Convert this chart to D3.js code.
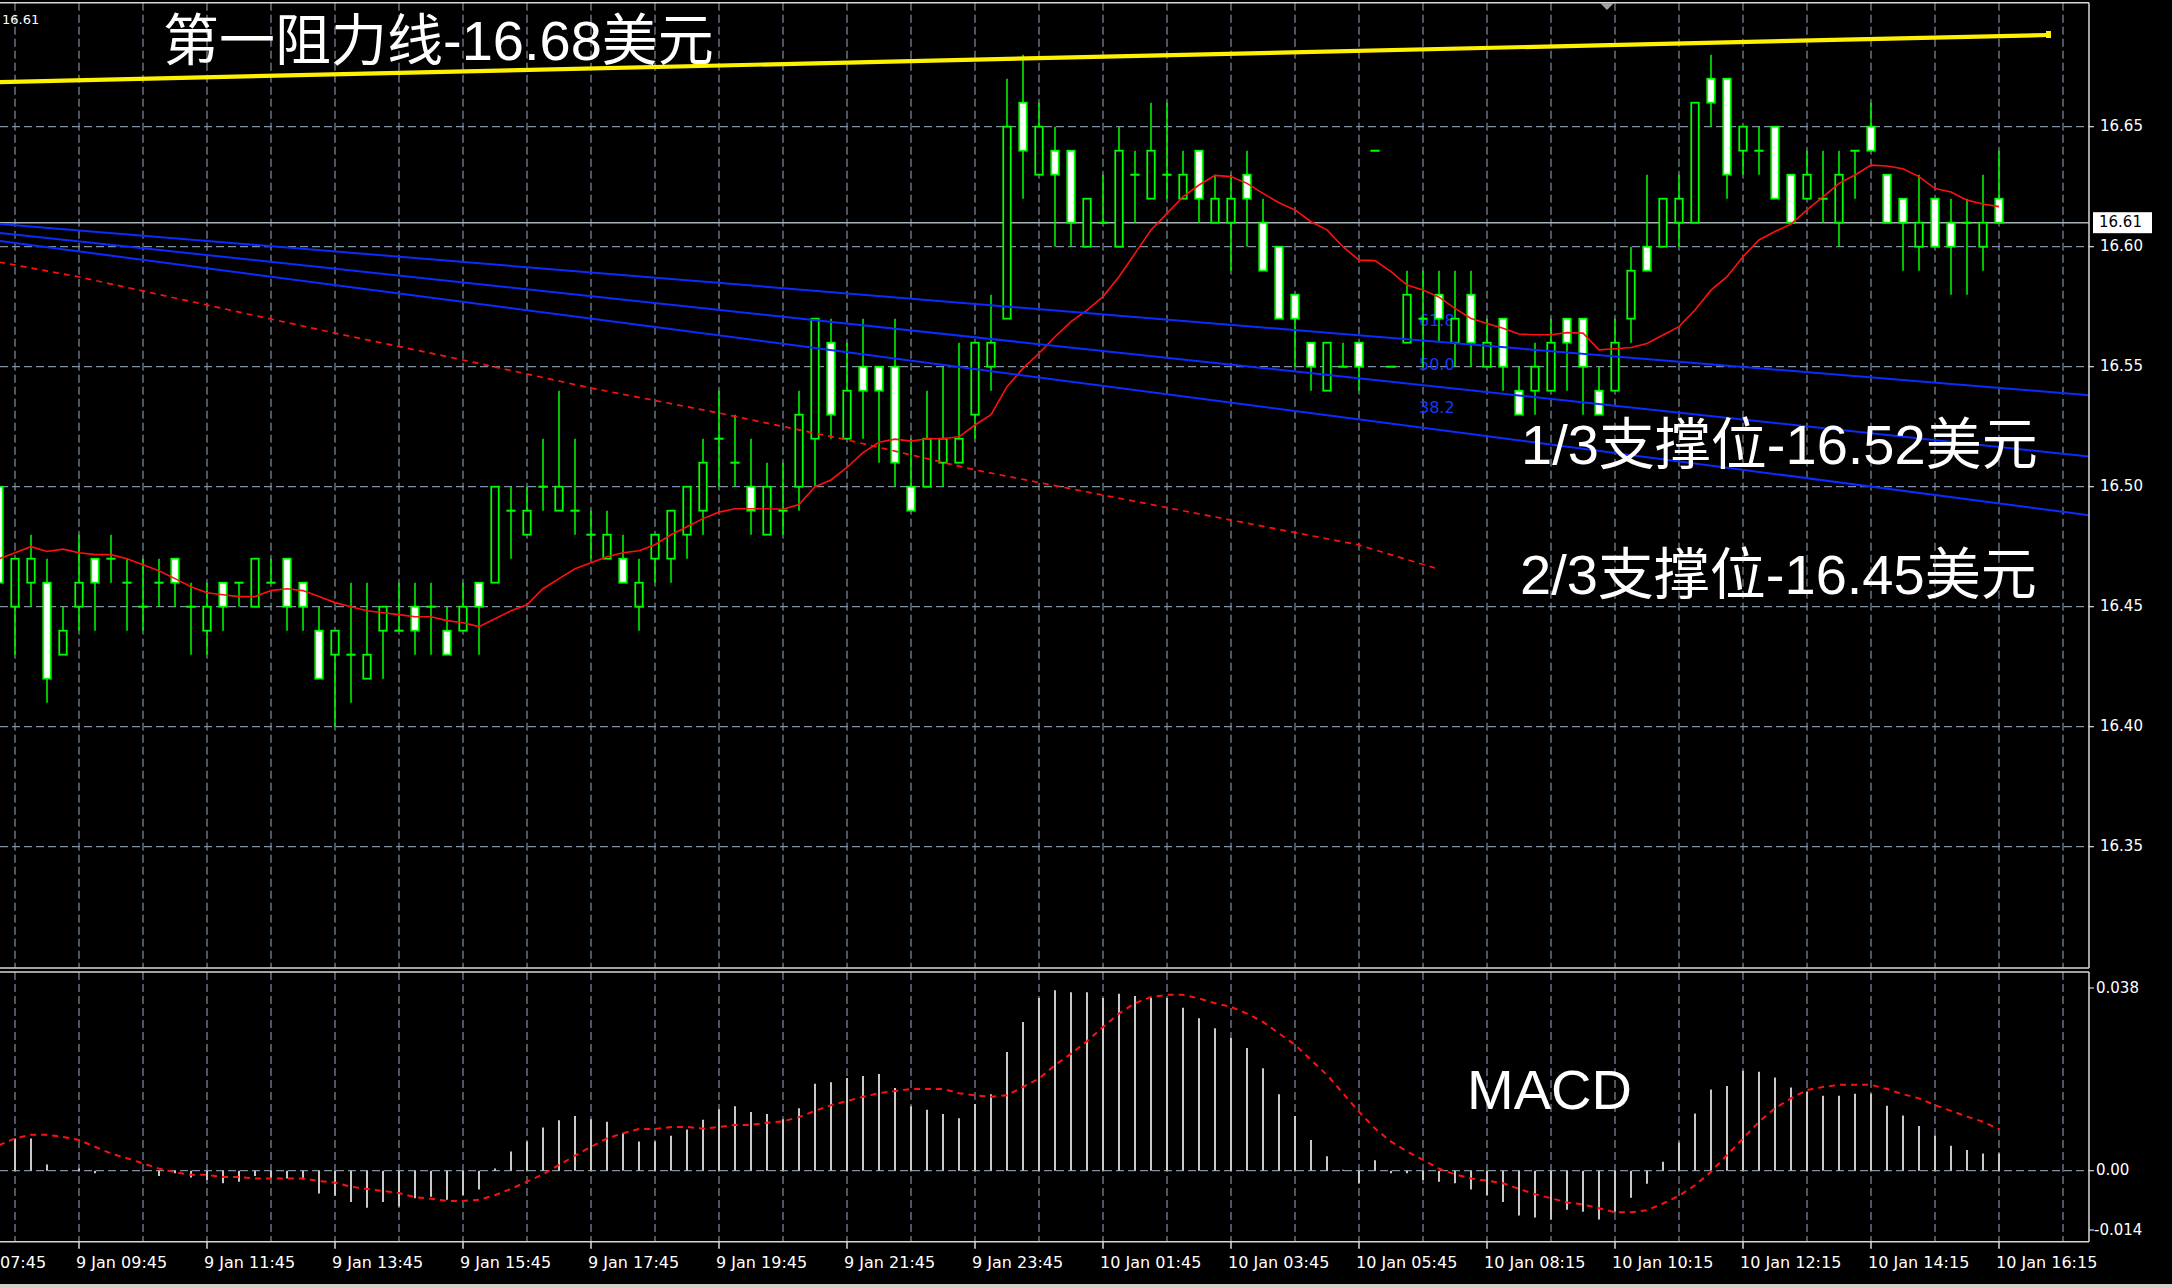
<!DOCTYPE html>
<html><head><meta charset="utf-8">
<script src="https://cdn.jsdelivr.net/npm/d3@7"></script>
<style>html,body{margin:0;padding:0;background:#000;overflow:hidden}</style>
</head><body>
<svg id="c" width="2172" height="1288"></svg>
<script>
// ---------------- DATA ----------------
const barIdx = d3.range(-1, 125); // bar index -1 .. 124 (15-minute bars)

const opens = [16.50,16.45,16.46,16.46,16.43,16.45,16.47,16.47,16.46,16.45,
 16.46,16.47,16.45,16.44,16.46,16.46,16.45,16.46,16.47,16.46,
 16.44,16.43,16.43,16.42,16.44,16.44,16.45,16.45,16.44,16.44,
 16.46,16.46,16.49,16.48,16.50,16.49,16.49,16.48,16.47,16.47,
 16.45,16.47,16.47,16.48,16.49,16.52,16.51,16.50,16.48,16.49,
 16.50,16.52,16.56,16.52,16.55,16.55,16.55,16.50,16.50,16.51,
 16.51,16.53,16.55,16.57,16.66,16.63,16.64,16.64,16.60,16.61,
 16.60,16.63,16.62,16.63,16.62,16.64,16.61,16.61,16.63,16.61,
 16.60,16.58,16.56,16.54,16.55,16.56,16.64,16.55,16.56,16.57,
 16.58,16.56,16.58,16.55,16.57,16.54,16.54,16.54,16.57,16.57,
 16.54,16.54,16.57,16.60,16.60,16.61,16.61,16.67,16.67,16.64,
 16.64,16.65,16.63,16.62,16.62,16.61,16.64,16.65,16.63,16.62,
 16.60,16.62,16.61,16.61,16.60,16.62];

const highs = [16.50,16.47,16.48,16.47,16.45,16.48,16.47,16.48,16.47,16.47,
 16.47,16.47,16.46,16.46,16.46,16.46,16.47,16.47,16.47,16.46,
 16.45,16.44,16.46,16.46,16.45,16.46,16.46,16.46,16.45,16.46,
 16.46,16.50,16.50,16.50,16.52,16.54,16.52,16.49,16.49,16.48,
 16.47,16.48,16.49,16.50,16.52,16.54,16.53,16.52,16.51,16.51,
 16.54,16.57,16.57,16.56,16.57,16.55,16.57,16.52,16.54,16.55,
 16.56,16.56,16.58,16.67,16.68,16.66,16.65,16.64,16.62,16.63,
 16.65,16.64,16.66,16.66,16.64,16.64,16.63,16.63,16.64,16.62,
 16.60,16.58,16.56,16.56,16.56,16.56,16.64,16.55,16.59,16.59,
 16.59,16.59,16.59,16.57,16.57,16.55,16.56,16.57,16.57,16.57,
 16.55,16.57,16.60,16.63,16.62,16.63,16.66,16.68,16.67,16.65,
 16.65,16.65,16.63,16.64,16.64,16.64,16.64,16.66,16.63,16.62,
 16.63,16.62,16.62,16.62,16.63,16.64];

const lows = [16.46,16.43,16.45,16.41,16.43,16.44,16.44,16.46,16.44,16.44,
 16.45,16.45,16.43,16.43,16.44,16.45,16.45,16.46,16.44,16.44,
 16.42,16.40,16.41,16.42,16.42,16.44,16.43,16.43,16.43,16.44,
 16.43,16.46,16.47,16.48,16.49,16.49,16.48,16.47,16.47,16.46,
 16.44,16.46,16.46,16.47,16.48,16.50,16.50,16.48,16.48,16.48,
 16.49,16.50,16.52,16.52,16.52,16.51,16.50,16.49,16.50,16.50,
 16.51,16.52,16.54,16.57,16.62,16.63,16.60,16.60,16.60,16.61,
 16.60,16.61,16.62,16.62,16.62,16.61,16.61,16.59,16.60,16.59,
 16.57,16.55,16.54,16.54,16.55,16.54,16.64,16.55,16.56,16.55,
 16.56,16.55,16.55,16.55,16.54,16.53,16.53,16.54,16.54,16.53,
 16.53,16.54,16.56,16.59,16.60,16.60,16.61,16.65,16.62,16.63,
 16.63,16.62,16.61,16.62,16.61,16.60,16.62,16.64,16.61,16.59,
 16.59,16.60,16.58,16.58,16.59,16.61];

const closes = [16.46,16.47,16.47,16.42,16.44,16.46,16.46,16.47,16.46,16.45,
 16.46,16.46,16.45,16.45,16.45,16.46,16.47,16.46,16.45,16.45,
 16.42,16.44,16.43,16.43,16.45,16.44,16.44,16.45,16.43,16.45,
 16.45,16.50,16.49,16.49,16.50,16.50,16.49,16.48,16.48,16.46,
 16.46,16.48,16.49,16.50,16.51,16.52,16.51,16.49,16.50,16.49,
 16.53,16.57,16.53,16.54,16.54,16.54,16.51,16.49,16.52,16.52,
 16.52,16.56,16.56,16.65,16.64,16.65,16.63,16.61,16.62,16.61,
 16.64,16.63,16.64,16.63,16.63,16.62,16.62,16.62,16.62,16.59,
 16.57,16.57,16.55,16.56,16.55,16.55,16.64,16.55,16.58,16.57,
 16.57,16.57,16.56,16.56,16.55,16.53,16.55,16.56,16.56,16.55,
 16.53,16.56,16.59,16.59,16.62,16.62,16.66,16.66,16.63,16.65,
 16.64,16.62,16.61,16.63,16.62,16.63,16.64,16.64,16.61,16.61,
 16.61,16.60,16.60,16.61,16.61,16.61];

// short moving average (red solid), read per bar
const maFast = [16.470,16.4725,16.475,16.473,16.474,16.4725,16.4717,16.4717,16.470,16.4675,
 16.465,16.4617,16.4583,16.4558,16.455,16.4542,16.4542,16.4567,16.4575,16.4567,
 16.4542,16.4517,16.450,16.4483,16.4475,16.4467,16.4458,16.4458,16.4442,16.4433,
 16.4417,16.445,16.4483,16.4508,16.4575,16.4617,16.4658,16.4683,16.4708,16.4725,
 16.4733,16.4758,16.480,16.4833,16.4867,16.4894,16.4908,16.4908,16.4908,16.4906,
 16.4926,16.500,16.5028,16.508,16.5142,16.5185,16.5198,16.519,16.520,16.520,
 16.5208,16.5257,16.530,16.5417,16.5493,16.5556,16.5625,16.5688,16.5736,16.5792,
 16.5875,16.5972,16.607,16.6139,16.6208,16.6257,16.6297,16.6292,16.6264,16.6222,
 16.6183,16.6153,16.6104,16.607,16.600,16.5944,16.5942,16.5896,16.584,16.582,
 16.579,16.5743,16.5701,16.568,16.566,16.5636,16.5633,16.5633,16.5642,16.564,
 16.557,16.5575,16.558,16.5597,16.5632,16.5667,16.5736,16.5819,16.5875,16.5958,
 16.6028,16.6063,16.6094,16.6153,16.6208,16.6264,16.6299,16.634,16.6336,16.6325,
 16.6292,16.6242,16.6228,16.6194,16.6178,16.6167];

// long moving average (red dashed), read at sample bars
const maSlowIdx = [-1, 4, 12, 20, 28, 36, 44, 52, 60, 68, 76, 84, 88.75];
const maSlowVal = [16.5936,16.5874,16.5757,16.564,16.5528,16.5411,16.5307,16.5195,16.507,16.4965,16.4861,16.4757,16.4661];

// descending blue lines (start / end points)
const channelIdx = [-1, 130];
const channelStart = [16.6095, 16.6058, 16.6024];
const channelEnd = [16.5379, 16.5123, 16.4878];

// yellow resistance trend line
const resistIdx = [-1, 127];
const resistVal = [16.6686, 16.6882];

// fibonacci level labels
const fibLabels = ["61.8", "50.0", "38.2"];
const fibPrices = [16.569, 16.5507, 16.5324];
const fibIdx = 87.75;

// MACD histogram and signal
const macdHist = [0.0081,0.0062,0.0062,0.0012,0.0,0.0004,-0.0005,0.0,0.0,0.0,
 -0.001,-0.0005,-0.0013,-0.0018,-0.0024,-0.0021,-0.001,-0.0015,-0.0015,-0.0017,
 -0.0044,-0.0048,-0.006,-0.0071,-0.006,-0.0069,-0.0053,-0.005,-0.0056,-0.0047,
 -0.0036,0.0004,0.0037,0.0056,0.0083,0.0097,0.0105,0.0099,0.0094,0.0072,
 0.0056,0.0056,0.0067,0.0079,0.0098,0.0118,0.0124,0.0113,0.0109,0.0099,
 0.012,0.0167,0.017,0.0178,0.0182,0.0186,0.0159,0.0124,0.0117,0.0109,
 0.0101,0.0128,0.0147,0.0228,0.0286,0.0332,0.0347,0.0343,0.0343,0.0332,
 0.034,0.0336,0.0332,0.0332,0.0313,0.0293,0.0274,0.0255,0.0236,0.0197,
 0.0147,0.0105,0.0059,0.0028,0.0002,-0.0024,0.002,-0.0005,-0.0005,-0.0018,
 -0.0021,-0.0024,-0.0036,-0.0047,-0.006,-0.0086,-0.009,-0.0094,-0.0075,-0.0079,
 -0.0094,-0.0079,-0.0052,-0.0025,0.0017,0.0054,0.011,0.0156,0.0163,0.0192,
 0.019,0.0179,0.016,0.0152,0.0144,0.0144,0.0148,0.0148,0.0125,0.0106,
 0.0086,0.0067,0.0048,0.004,0.0033,0.0033];

const macdSignal = [0.0049,0.0062,0.0069,0.0069,0.0065,0.0059,0.0046,0.0033,0.0024,0.0014,
 0.0004,-0.0003,-0.0008,-0.0008,-0.0012,-0.0012,-0.0015,-0.0015,-0.0015,-0.0015,
 -0.002,-0.0023,-0.0031,-0.0035,-0.0039,-0.0043,-0.0051,-0.0054,-0.0058,-0.0058,
 -0.0056,-0.0047,-0.0035,-0.0021,-0.0007,0.0011,0.0029,0.0046,0.0062,0.0072,
 0.008,0.008,0.0084,0.0084,0.0081,0.0084,0.0088,0.0088,0.0092,0.0095,
 0.0103,0.0115,0.0126,0.0134,0.0142,0.0149,0.0153,0.0157,0.0157,0.0157,
 0.0149,0.0145,0.0142,0.0145,0.0161,0.0177,0.0203,0.0225,0.0249,0.0276,
 0.0302,0.0322,0.0334,0.0338,0.0338,0.0331,0.0322,0.0315,0.0302,0.0286,
 0.0264,0.0242,0.0213,0.0184,0.0149,0.0113,0.0081,0.0056,0.0037,0.0021,
 0.0004,-0.0007,-0.0015,-0.0019,-0.0024,-0.0035,-0.0045,-0.0053,-0.0061,-0.0065,
 -0.0072,-0.008,-0.008,-0.0076,-0.0063,-0.0048,-0.0028,-0.0002,0.003,0.0062,
 0.0094,0.012,0.0139,0.0155,0.0161,0.0165,0.0165,0.0165,0.0157,0.0147,
 0.0139,0.0126,0.0115,0.0104,0.0094,0.008];

// axes
const timeLabels = ["9 Jan 09:45","9 Jan 11:45","9 Jan 13:45","9 Jan 15:45","9 Jan 17:45",
 "9 Jan 19:45","9 Jan 21:45","9 Jan 23:45","10 Jan 01:45","10 Jan 03:45","10 Jan 05:45",
 "10 Jan 08:15","10 Jan 10:15","10 Jan 12:15","10 Jan 14:15","10 Jan 16:15"];
const timeLabelIdx = [4,12,20,28,36,44,52,60,68,76,84,92,100,108,116,124];
const partialTimeLabel = "07:45"; // visible tail of "9 Jan 07:45" at the left edge
const priceTicks = [16.65,16.60,16.55,16.50,16.45,16.40,16.35];
const macdTicks = [0.038, 0.0, -0.014];
const macdTickLabels = ["0.038", "0.00", "-0.014"];
const gridIdx = d3.range(0, 129, 4);
const lastPrice = 16.61;

const annotations = [
  {text: "第一阻力线-16.68美元", x: 163, y: 60},
  {text: "1/3支撑位-16.52美元", x: 1521, y: 464},
  {text: "2/3支撑位-16.45美元", x: 1520, y: 594},
  {text: "MACD", x: 1467, y: 1109}
];

// ---------------- LAYOUT ----------------
const paneRight = 2089;
const mainTop = 2.7, mainBottom = 968;
const macdTop = 972, macdBottom = 1241.7;

const x = d3.scaleLinear().domain([0, 124]).range([15, 1999]);
const y = d3.scaleLinear().domain([16.30, 16.70]).range([966.7, 6.7]);
const ym = d3.scaleLinear().domain([0, 0.038]).range([1170.7, 973]);

const svg = d3.select("#c");
svg.append("rect").attr("width", 2172).attr("height", 1288).attr("fill", "#000");

const defs = svg.append("defs");
defs.append("clipPath").attr("id", "mainClip").append("rect")
  .attr("x", 0).attr("y", mainTop).attr("width", paneRight).attr("height", mainBottom - mainTop);
defs.append("clipPath").attr("id", "macdClip").append("rect")
  .attr("x", 0).attr("y", macdTop).attr("width", paneRight).attr("height", macdBottom - macdTop);

const gridColor = "#8090a0";
const main = svg.append("g").attr("clip-path", "url(#mainClip)");
const macd = svg.append("g").attr("clip-path", "url(#macdClip)");

// grid main
main.selectAll("line.vg").data(gridIdx).join("line")
  .attr("x1", d => x(d)).attr("x2", d => x(d)).attr("y1", mainTop).attr("y2", mainBottom)
  .attr("stroke", gridColor).attr("stroke-width", 1.2).attr("stroke-dasharray", "8,4");
main.selectAll("line.hg").data(priceTicks).join("line")
  .attr("x1", 0).attr("x2", paneRight).attr("y1", d => y(d)).attr("y2", d => y(d))
  .attr("stroke", gridColor).attr("stroke-width", 1.2).attr("stroke-dasharray", "8,4");

// grid macd
macd.selectAll("line.vg").data(gridIdx).join("line")
  .attr("x1", d => x(d)).attr("x2", d => x(d)).attr("y1", macdTop).attr("y2", macdBottom)
  .attr("stroke", gridColor).attr("stroke-width", 1.2).attr("stroke-dasharray", "8,4");
macd.append("line").attr("x1", 0).attr("x2", paneRight).attr("y1", ym(0)).attr("y2", ym(0))
  .attr("stroke", gridColor).attr("stroke-width", 1.2).attr("stroke-dasharray", "8,4");

// last price line
main.append("line").attr("x1", 0).attr("x2", paneRight).attr("y1", y(lastPrice)).attr("y2", y(lastPrice))
  .attr("stroke", "#a8b0b8").attr("stroke-width", 1.5);

// fib labels (behind candles)
main.selectAll("text.fib").data(fibLabels).join("text")
  .attr("x", x(fibIdx)).attr("y", (d, i) => y(fibPrices[i]))
  .attr("dominant-baseline", "middle")
  .attr("font-family", "DejaVu Sans, sans-serif").attr("font-size", 16)
  .attr("fill", "#1438ff").text(d => d);

// candles
const candles = barIdx.map((k, i) => ({k, o: opens[i], h: highs[i], l: lows[i], c: closes[i]}));
const green = "#00ff00";
const cg = main.append("g");
cg.selectAll("line.wick").data(candles.filter(d => d.h !== d.l)).join("line")
  .attr("x1", d => x(d.k)).attr("x2", d => x(d.k))
  .attr("y1", d => y(d.h)).attr("y2", d => y(d.l))
  .attr("stroke", green).attr("stroke-width", 1.5);
cg.selectAll("rect.body").data(candles.filter(d => d.o !== d.c)).join("rect")
  .attr("x", d => x(d.k) - 3.75).attr("width", 7.5)
  .attr("y", d => y(Math.max(d.o, d.c))).attr("height", d => Math.abs(y(d.o) - y(d.c)))
  .attr("fill", d => d.c > d.o ? "#000" : "#ffffff")
  .attr("stroke", green).attr("stroke-width", 1.75);
cg.selectAll("line.doji").data(candles.filter(d => d.o === d.c)).join("line")
  .attr("x1", d => x(d.k) - 4.6).attr("x2", d => x(d.k) + 4.6)
  .attr("y1", d => y(d.o)).attr("y2", d => y(d.o))
  .attr("stroke", green).attr("stroke-width", 2);

// moving averages
const line = d3.line().x(d => x(d[0])).y(d => y(d[1]));
main.append("path").datum(maSlowIdx.map((k, i) => [k, maSlowVal[i]]))
  .attr("d", line).attr("fill", "none").attr("stroke", "#ff1010").attr("stroke-width", 1.7)
  .attr("stroke-dasharray", "6,5");
main.append("path").datum(barIdx.map((k, i) => [k, maFast[i]]))
  .attr("d", line).attr("fill", "none").attr("stroke", "#ff1010").attr("stroke-width", 1.6);

// blue lines
channelStart.forEach((p0, i) => {
  main.append("path").datum([[channelIdx[0], p0], [channelIdx[1], channelEnd[i]]])
    .attr("d", line).attr("fill", "none").attr("stroke", "#0a2cff").attr("stroke-width", 2);
});

// yellow resistance line
main.append("path").datum([[resistIdx[0], resistVal[0]], [resistIdx[1], resistVal[1]]])
  .attr("d", line).attr("fill", "none").attr("stroke", "#fff200").attr("stroke-width", 4.2);
main.append("rect").attr("x", x(resistIdx[1]) - 1).attr("y", y(resistVal[1]) - 4)
  .attr("width", 5).attr("height", 7).attr("fill", "#fff200");

// MACD histogram
macd.selectAll("line.hist").data(barIdx.map((k, i) => ({k, v: macdHist[i]}))).join("line")
  .attr("x1", d => x(d.k)).attr("x2", d => x(d.k))
  .attr("y1", ym(0)).attr("y2", d => ym(d.v))
  .attr("stroke", "#c8c8c8").attr("stroke-width", 2);
const mline = d3.line().x(d => x(d[0])).y(d => ym(d[1]));
macd.append("path").datum(barIdx.map((k, i) => [k, macdSignal[i]]))
  .attr("d", mline).attr("fill", "none").attr("stroke", "#ff1010").attr("stroke-width", 2)
  .attr("stroke-dasharray", "6,5");

// pane frames
const frame = "#d8d8d8";
[[0, paneRight, mainTop, mainTop], [0, paneRight, mainBottom, mainBottom],
 [0, paneRight, macdTop, macdTop], [0, paneRight, macdBottom, macdBottom],
 [paneRight, paneRight, mainTop, mainBottom], [paneRight, paneRight, macdTop, macdBottom]]
 .forEach(s => svg.append("line").attr("x1", s[0]).attr("x2", s[1]).attr("y1", s[2]).attr("y2", s[3])
   .attr("stroke", frame).attr("stroke-width", 1.5));

// chart shift marker
svg.append("path").attr("d", "M1600,3 L1614,3 L1607,10 Z").attr("fill", "#a0a0a0");

// price axis
const axisFont = "DejaVu Sans, sans-serif";
svg.selectAll("line.pt").data(priceTicks).join("line")
  .attr("x1", paneRight).attr("x2", paneRight + 5).attr("y1", d => y(d)).attr("y2", d => y(d))
  .attr("stroke", frame).attr("stroke-width", 1.2);
svg.selectAll("text.pt").data(priceTicks).join("text")
  .attr("x", 2100).attr("y", d => y(d)).attr("dominant-baseline", "middle")
  .attr("font-family", axisFont).attr("font-size", 15).attr("fill", "#fff")
  .text(d => d3.format(".2f")(d));
// last price box
svg.append("rect").attr("x", 2093).attr("y", y(lastPrice) - 10.5).attr("width", 59).attr("height", 21)
  .attr("fill", "#fff");
svg.append("text").attr("x", 2099).attr("y", y(lastPrice)).attr("dominant-baseline", "middle")
  .attr("font-family", axisFont).attr("font-size", 15).attr("fill", "#000").text(d3.format(".2f")(lastPrice));

// macd axis
const macdLabelY = [988, ym(0), 1230];
svg.selectAll("line.mt").data(macdTicks).join("line")
  .attr("x1", paneRight).attr("x2", paneRight + 5)
  .attr("y1", (d, i) => macdLabelY[i]).attr("y2", (d, i) => macdLabelY[i])
  .attr("stroke", frame).attr("stroke-width", 1.2);
svg.selectAll("text.mt").data(macdTickLabels).join("text")
  .attr("x", (d, i) => i === 2 ? 2094 : 2096)
  .attr("y", (d, i) => macdLabelY[i]).attr("dominant-baseline", "middle")
  .attr("font-family", axisFont).attr("font-size", 15).attr("fill", "#fff").text(d => d);

// time axis
svg.selectAll("line.tt").data(timeLabelIdx).join("line")
  .attr("x1", d => x(d)).attr("x2", d => x(d)).attr("y1", macdBottom).attr("y2", macdBottom + 7)
  .attr("stroke", frame).attr("stroke-width", 1.5);
svg.selectAll("text.tt").data(timeLabels).join("text")
  .attr("x", (d, i) => x(timeLabelIdx[i]) - 3).attr("y", 1268)
  .attr("font-family", axisFont).attr("font-size", 16).attr("fill", "#fff").text(d => d);
svg.append("text").attr("x", 0).attr("y", 1268)
  .attr("font-family", axisFont).attr("font-size", 16).attr("fill", "#fff").text(partialTimeLabel);

// top-left price
svg.append("text").attr("x", 2).attr("y", 24).attr("font-family", axisFont).attr("font-size", 13)
  .attr("fill", "#fff").text("16.61");

// annotations
svg.selectAll("text.ann").data(annotations).join("text")
  .attr("x", d => d.x).attr("y", d => d.y)
  .attr("font-family", "Liberation Sans, 'Noto Sans CJK SC', sans-serif")
  .attr("font-size", 56).attr("fill", "#fff").text(d => d.text);

// bottom window edge
svg.append("rect").attr("x", 0).attr("y", 1284).attr("width", 2172).attr("height", 4).attr("fill", "#d4d0c8");
</script>
</body></html>
